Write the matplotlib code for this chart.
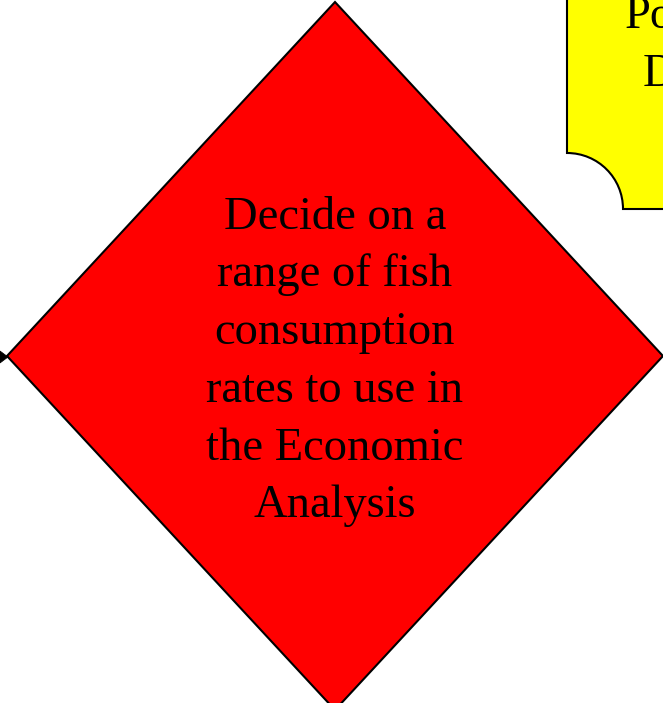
import matplotlib.pyplot as plt
from matplotlib.patches import Polygon, PathPatch
from matplotlib.path import Path

# diamond decision box (pixel coords, y down)
diamond_x = [335, 663, 335, 7]
diamond_y = [2, 356, 710, 356]
diamond_lines = ["Decide on a", "range of fish", "consumption",
                 "rates to use in", "the Economic", "Analysis"]
line_y = [229, 286, 344, 402, 460, 517]

# partially visible yellow box at top right
box_lines = ["Po", "D"]
box_text_x = [625, 643]
box_text_y = [28, 86]

fig = plt.figure(figsize=(6.63, 7.03), dpi=100)
ax = fig.add_axes([0, 0, 1, 1])
ax.set_xlim(0, 663)
ax.set_ylim(703, 0)
ax.axis("off")

# yellow shape with concave bottom-left corner
verts = [(567, -5), (567, 153), (567 + 31, 153), (623, 178), (623, 209),
         (670, 209), (670, -5), (567, -5)]
codes = [Path.MOVETO, Path.LINETO, Path.CURVE4, Path.CURVE4, Path.CURVE4,
         Path.LINETO, Path.LINETO, Path.CLOSEPOLY]
ax.add_patch(PathPatch(Path(verts, codes), facecolor="#ffff00",
                       edgecolor="black", lw=1.5))
for s, x, y in zip(box_lines, box_text_x, box_text_y):
    ax.text(x, y, s, fontsize=33.5, family="Liberation Serif",
            ha="left", va="baseline")

ax.add_patch(Polygon(list(zip(diamond_x, diamond_y)), closed=True,
                     facecolor="#ff0000", edgecolor="black", lw=1.5))
for s, y in zip(diamond_lines, line_y):
    ax.text(335, y, s, fontsize=33.5, family="Liberation Serif",
            ha="center", va="baseline")

# arrowhead coming into the left vertex
ax.add_patch(Polygon([(0, 351), (8, 357), (0, 363)], closed=True,
                     facecolor="black", edgecolor="black", lw=0.5))

fig.savefig("out.png", dpi=100)
